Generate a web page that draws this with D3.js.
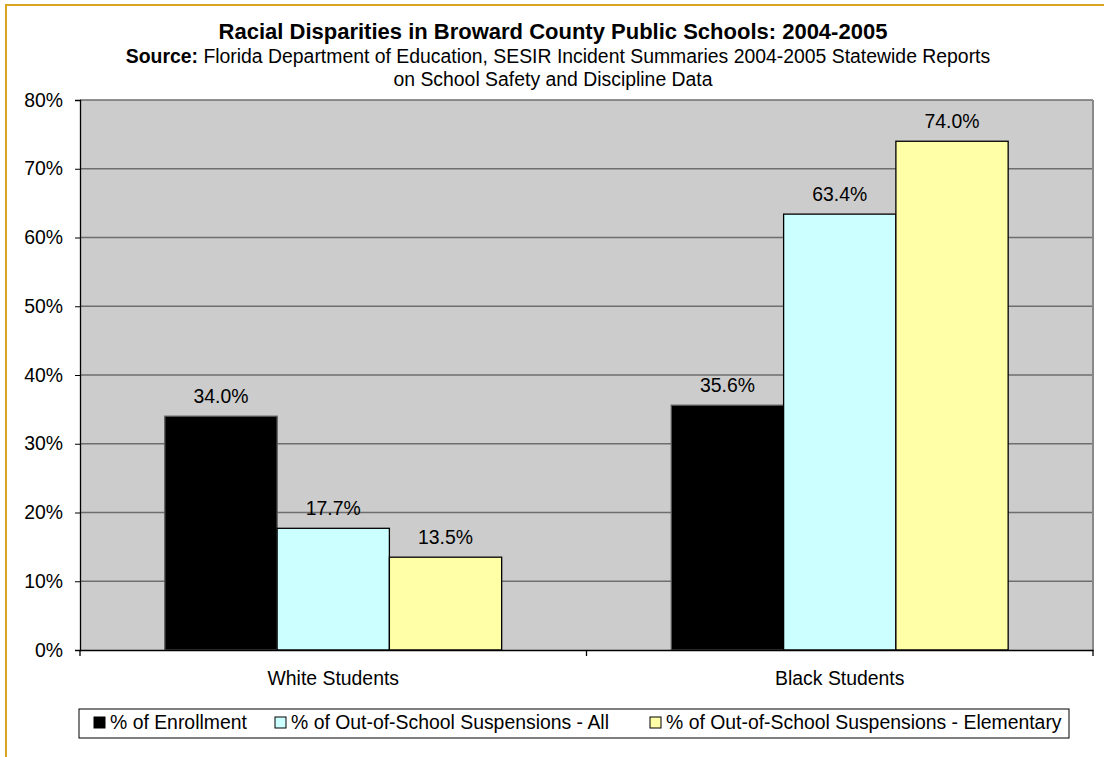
<!DOCTYPE html>
<html>
<head>
<meta charset="utf-8">
<script src="https://cdn.jsdelivr.net/npm/d3@7"></script>
<style>
  body { margin: 0; background: #fff; }
  svg { display: block; font-family: Arial, "Liberation Sans", sans-serif; }
</style>
</head>
<body>
<svg id="chart" width="1104" height="757"></svg>
<script>
// data
const categories = ["White Students", "Black Students"];
const seriesNames = [
    "% of Enrollment",
    "% of Out-of-School Suspensions - All",
    "% of Out-of-School Suspensions - Elementary"
];
const enrollment = [34.0, 35.6];
const suspAll = [17.7, 63.4];
const suspElem = [13.5, 74.0];
const yTicks = [0, 10, 20, 30, 40, 50, 60, 70, 80];
const colors = ["#000000", "#ccffff", "#ffffa8"];

const seriesValues = [enrollment, suspAll, suspElem];
const rows = categories.map((c, i) => ({
    cat: c,
    vals: seriesNames.map((s, j) => ({ key: s, idx: j, v: seriesValues[j][i] }))
}));

const svg = d3.select("#chart");
const plot = { left: 80, right: 1093, top: 100, bottom: 650 };
const fs = 19.4;

// outer gold frame (cut off at right and bottom)
svg.append("rect")
    .attr("x", 6).attr("y", 5)
    .attr("width", 1110).attr("height", 770)
    .attr("fill", "none")
    .attr("stroke", "#daa520")
    .attr("stroke-width", 2);

// titles
svg.append("text")
    .attr("x", 553).attr("y", 39)
    .attr("text-anchor", "middle")
    .attr("font-size", 22).attr("font-weight", "bold")
    .text("Racial Disparities in Broward County Public Schools: 2004-2005");
const sub = svg.append("text")
    .attr("x", 558).attr("y", 63)
    .attr("text-anchor", "middle")
    .attr("font-size", fs);
sub.append("tspan").attr("font-weight", "bold").text("Source:");
sub.append("tspan").text(" Florida Department of Education, SESIR Incident Summaries 2004-2005 Statewide Reports");
svg.append("text")
    .attr("x", 553).attr("y", 86)
    .attr("text-anchor", "middle")
    .attr("font-size", fs)
    .text("on School Safety and Discipline Data");

// scales
const x0 = d3.scaleBand()
    .domain(categories)
    .range([plot.left, plot.right])
    .paddingInner(0.335)
    .paddingOuter(0.1675);
const x1 = d3.scaleBand()
    .domain(seriesNames)
    .range([0, x0.bandwidth()]);
const y = d3.scaleLinear()
    .domain([0, 80])
    .range([plot.bottom, plot.top]);

// plot background
svg.append("rect")
    .attr("x", plot.left).attr("y", plot.top)
    .attr("width", plot.right - plot.left)
    .attr("height", plot.bottom - plot.top)
    .attr("fill", "#cccccc");

// gridlines
svg.append("g")
    .selectAll("line")
    .data(yTicks.filter(d => d > 0))
    .enter().append("line")
    .attr("x1", plot.left).attr("x2", plot.right)
    .attr("y1", d => y(d)).attr("y2", d => y(d))
    .attr("stroke", "#6e6e6e")
    .attr("stroke-width", 1.4);

// right border of plot
svg.append("line")
    .attr("x1", plot.right).attr("x2", plot.right)
    .attr("y1", plot.top).attr("y2", plot.bottom)
    .attr("stroke", "#888").attr("stroke-width", 2);

// bars
const groups = svg.append("g")
    .selectAll("g")
    .data(rows)
    .enter().append("g")
    .attr("transform", d => "translate(" + x0(d.cat) + ",0)");
groups.selectAll("rect")
    .data(d => d.vals)
    .enter().append("rect")
    .attr("x", d => x1(d.key))
    .attr("y", d => y(d.v))
    .attr("width", x1.bandwidth())
    .attr("height", d => y(0) - y(d.v))
    .attr("fill", d => colors[d.idx])
    .attr("stroke", d => d.idx === 0 ? "#555" : "#000")
    .attr("stroke-width", 1.3);
groups.selectAll("text")
    .data(d => d.vals)
    .enter().append("text")
    .attr("x", d => x1(d.key) + x1.bandwidth() / 2)
    .attr("y", d => y(d.v) - 13)
    .attr("text-anchor", "middle")
    .attr("font-size", fs)
    .text(d => d.v.toFixed(1) + "%");

// y axis
const yAxis = d3.axisLeft(y)
    .tickValues(yTicks)
    .tickSize(5)
    .tickPadding(12)
    .tickFormat(d => d + "%");
const gy = svg.append("g")
    .attr("transform", "translate(" + plot.left + ",0)")
    .call(yAxis);
gy.select(".domain").attr("stroke", "#000").attr("stroke-width", 1.3);
gy.selectAll(".tick line").attr("stroke", "#000");
gy.selectAll("text").attr("font-size", fs).attr("font-family", "Arial, 'Liberation Sans', sans-serif").attr("fill", "#000");

// x axis
const xAxis = d3.axisBottom(x0).tickSize(0).tickPadding(0);
const gx = svg.append("g")
    .attr("transform", "translate(0," + plot.bottom + ")")
    .call(xAxis);
gx.select(".domain").attr("stroke", "#000").attr("stroke-width", 1.3);
gx.selectAll("text")
    .attr("y", 35).attr("dy", null)
    .attr("font-size", fs).attr("font-family", "Arial, 'Liberation Sans', sans-serif").attr("fill", "#000");
// category boundary ticks
const bounds = [plot.left, (plot.left + plot.right) / 2, plot.right];
gx.selectAll(".bound")
    .data(bounds)
    .enter().append("line")
    .attr("x1", d => d).attr("x2", d => d)
    .attr("y1", 0).attr("y2", 6)
    .attr("stroke", "#000").attr("stroke-width", 1.3);

// legend
const legend = svg.append("g");
legend.append("rect")
    .attr("x", 79).attr("y", 709)
    .attr("width", 990).attr("height", 29)
    .attr("fill", "#fff")
    .attr("stroke", "#000");
const legendX = [94, 275, 650];
const li = legend.selectAll(".item")
    .data(seriesNames)
    .enter().append("g")
    .attr("transform", (d, i) => "translate(" + legendX[i] + ",717)");
li.append("rect")
    .attr("width", 11).attr("height", 11)
    .attr("fill", (d, i) => colors[i])
    .attr("stroke", "#000");
li.append("text")
    .attr("x", 16).attr("y", 12)
    .attr("font-size", fs)
    .text(d => d);
</script>
</body>
</html>
